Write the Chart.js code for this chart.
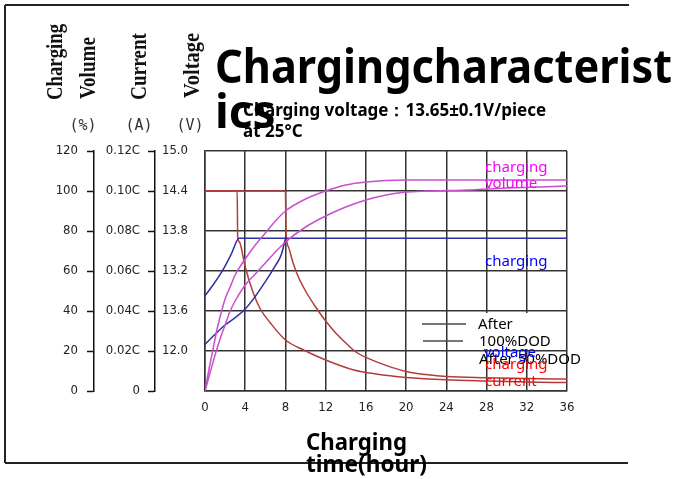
<!DOCTYPE html>
<html>
<head>
<meta charset="utf-8">
<script src="https://cdn.jsdelivr.net/npm/chart.js@4.4.1/dist/chart.umd.min.js"></script>
<style>
	body { margin: 0; background: #fff; }
</style>
</head>
<body>
<canvas id="charging-chart" width="675" height="479"></canvas>
<script>

// tick labels (bottom to top for the y axes)
var volumeTickLabels = ["0", "20", "40", "60", "80", "100", "120"];
var currentTickLabels = ["0", "0.02C", "0.04C", "0.06C", "0.08C", "0.10C", "0.12C"];
var voltageTickLabels = ["", "12.0", "13.6", "13.2", "13.8", "14.4", "15.0"];

// charging volume (%)
var volumeHalfTime = [0, 0.4, 0.8, 1.2, 1.6, 2, 2.5, 3, 4, 5, 6, 7, 8, 10, 12, 14, 16, 20, 28, 36];
var volumeHalf = [0, 11, 21, 31, 39, 46, 52, 58, 66, 73, 79, 85, 90, 96, 100, 103, 104.5, 105.5, 105.5, 105.5];
var volumeFullTime = [0, 0.5, 1, 1.5, 2, 2.5, 3, 4, 5, 6, 7, 8, 10, 12, 14, 16, 18, 20, 22, 26, 30, 36];
var volumeFull = [0, 9, 18, 26, 33, 40, 45, 53, 58.5, 64, 69.5, 74.5, 82, 87.5, 92, 95.5, 98, 99.5, 100, 100.5, 101.5, 102.5];

// charging voltage (V)
var voltageHalfTime = [0, 0.8, 1.8, 2.6, 3.4, 36];
var voltageHalf = [12.83, 12.99, 13.22, 13.45, 13.69, 13.69];
var voltageFullTime = [0, 1, 2, 3, 4, 5, 6, 7, 7.6, 8];
var voltageFull = [12.1, 12.25, 12.39, 12.5, 12.63, 12.82, 13.04, 13.28, 13.45, 13.69];

// charging current (C)
var currentHalfTime = [0, 3.2, 3.25, 3.4, 4, 4.8, 5.5, 6.5, 8, 9.8, 12, 14.8, 17, 20, 24, 28, 32, 36];
var currentHalf = [0.10, 0.10, 0.077, 0.0747, 0.062, 0.049, 0.041, 0.034, 0.0255, 0.0205, 0.0155, 0.0105, 0.0085, 0.0068, 0.0056, 0.005, 0.0045, 0.0042];
var currentFullTime = [0, 8, 8.05, 8.3, 8.7, 9.2, 10, 11, 12, 13, 14, 15, 16, 18, 20, 22, 24, 28, 32, 36];
var currentFull = [0.10, 0.10, 0.08, 0.072, 0.065, 0.058, 0.05, 0.042, 0.035, 0.029, 0.024, 0.0195, 0.0168, 0.0128, 0.0098, 0.0082, 0.0072, 0.0066, 0.0062, 0.006];

function points(xs, ys) {
	return xs.map(function(x, i) { return { x : x, y : ys[i] }; });
}

var RED = "#b53b3b", MAGENTA = "#c94fd0", BLUE = "#2f2fa2", GRID = "#333";
var tickFont = { family : "'DejaVu Sans Condensed', 'Liberation Sans Narrow', sans-serif", size : 13 };
var hand = "'Noto Sans', sans-serif";

function curve(label, data, color, axis) {
	return {
		label : label,
		data : data,
		yAxisID : axis,
		borderColor : color,
		backgroundColor : color,
		borderWidth : 1.5,
		pointRadius : 0,
		fill : false,
		cubicInterpolationMode : "monotone"
	};
}

function put(ctx, str, x, y, font, color, maxWidth) {
	ctx.font = font;
	ctx.fillStyle = color;
	if (maxWidth) ctx.fillText(str, x, y, maxWidth);
	else ctx.fillText(str, x, y);
}

function putUp(ctx, str, x, y, font, maxWidth) {
	ctx.save();
	ctx.translate(x, y);
	ctx.rotate(-Math.PI / 2);
	ctx.textBaseline = "middle";
	ctx.textAlign = "left";
	put(ctx, str, 0, 0, font, "#111", maxWidth);
	ctx.restore();
}

var overlay = {
	id : "overlay",
	beforeDatasetsDraw : function(chart) {
		// blank box behind the key
		var ctx = chart.ctx, xs = chart.scales.x, vs = chart.scales.volume;
		var l = xs.getPixelForValue(24) + 3, r = xs.getPixelForValue(36) - 3;
		var t = vs.getPixelForValue(40) + 2, b = vs.getPixelForValue(20) - 2;
		ctx.save();
		ctx.fillStyle = "#fff";
		ctx.fillRect(l, t, r - l, b - t);
		ctx.restore();
	},
	afterDraw : function(chart) {
		var ctx = chart.ctx;
		ctx.save();

		// frame
		ctx.strokeStyle = "#222";
		ctx.lineWidth = 2;
		ctx.beginPath();
		ctx.moveTo(5, 5); ctx.lineTo(629, 5);
		ctx.moveTo(5, 5); ctx.lineTo(5, 463);
		ctx.moveTo(5, 463); ctx.lineTo(628, 463);
		ctx.stroke();

		// axis titles
		var serif = "bold 23px 'Liberation Serif', serif";
		putUp(ctx, "Charging", 56, 100, serif, 76);
		putUp(ctx, "Volume", 89, 99, serif, 62);
		putUp(ctx, "Current", 140, 100, serif, 67);
		putUp(ctx, "Voltage", 193, 98, serif, 65);

		ctx.textBaseline = "alphabetic";
		ctx.textAlign = "center";
		put(ctx, "(%)", 83, 130, "15px 'DejaVu Sans Mono', monospace", "#333");
		put(ctx, "(A)", 139, 130, "15px 'DejaVu Sans Mono', monospace", "#333");
		put(ctx, "(V)", 190, 130, "15px 'DejaVu Sans Mono', monospace", "#333");

		// headings
		ctx.textAlign = "left";
		put(ctx, "Chargingcharacterist", 215, 83, "bold 46px " + hand, "#000", 457);
		put(ctx, "ics", 215, 128, "bold 46px " + hand, "#000");
		put(ctx, "Charging voltage：13.65±0.1V/piece", 243, 116, "bold 17px " + hand, "#000", 347);
		put(ctx, "at 25°C", 243, 137, "bold 17px " + hand, "#000", 76);
		put(ctx, "Charging", 306, 450, "bold 23px " + hand, "#000", 101);
		put(ctx, "time(hour)", 306, 472, "bold 23px " + hand, "#000", 121);

		// key
		ctx.strokeStyle = "#5a4646";
		ctx.lineWidth = 1.5;
		ctx.beginPath();
		ctx.moveTo(422, 324); ctx.lineTo(466, 324);
		ctx.moveTo(423, 341); ctx.lineTo(463, 341);
		ctx.stroke();
		var small = "15px " + hand;
		put(ctx, "After", 478, 329, small, "#000");
		put(ctx, "100%DOD", 479, 346, small, "#000", 76);
		put(ctx, "After 50%DOD", 479, 364, small, "#000", 111);
		put(ctx, "voltage", 484, 357, small, "#0000ff", 52);

		// curve labels
		put(ctx, "charging", 485, 172, small, "#ff00ff", 63);
		put(ctx, "volume", 485, 188, small, "#ff00ff", 53);
		put(ctx, "charging", 485, 266, small, "#0000ff", 63);
		put(ctx, "charging", 485, 369, small, "#ff0000", 63);
		put(ctx, "current", 485, 386, small, "#ff0000", 56);

		ctx.restore();
	}
};

var chart = new Chart(document.getElementById("charging-chart"), {
	type : "line",
	data : {
		datasets : [
			curve("Charging volume after 50%DOD", points(volumeHalfTime, volumeHalf), MAGENTA, "volume"),
			curve("Charging volume after 100%DOD", points(volumeFullTime, volumeFull), MAGENTA, "volume"),
			curve("Charging voltage after 50%DOD", points(voltageHalfTime, voltageHalf), BLUE, "voltage"),
			curve("Charging voltage after 100%DOD", points(voltageFullTime, voltageFull), BLUE, "voltage"),
			curve("Charging current after 50%DOD", points(currentHalfTime, currentHalf), RED, "current"),
			curve("Charging current after 100%DOD", points(currentFullTime, currentFull), RED, "current")
		]
	},
	options : {
		responsive : false,
		animation : false,
		layout : { padding : { left : 40, top : 151, right : 108, bottom : 58 } },
		plugins : {
			legend : { display : false },
			title : { display : false },
			tooltip : { enabled : false }
		},
		scales : {
			x : {
				type : "linear",
				min : 0,
				max : 36,
				ticks : { stepSize : 4, padding : 9, color : "#222", font : tickFont, maxRotation : 0 },
				grid : { color : GRID, lineWidth : 1.5, drawTicks : false },
				border : { color : GRID, width : 1.5 },
				afterFit : function(s) { s.height = 30; }
			},
			voltage : {
				position : "left",
				weight : 0,
				min : 11.4,
				max : 15.0,
				ticks : {
					stepSize : 0.6, padding : 17, color : "#222", font : tickFont,
					callback : function(v, i) { return voltageTickLabels[i]; }
				},
				grid : { color : GRID, lineWidth : 1.5, drawTicks : false },
				border : { color : GRID, width : 1.5 },
				afterFit : function(s) { s.width = 50; }
			},
			current : {
				position : "left",
				weight : 1,
				min : 0,
				max : 0.12,
				ticks : {
					stepSize : 0.02, padding : 8, color : "#222", font : tickFont,
					callback : function(v, i) { return currentTickLabels[i]; }
				},
				grid : { drawOnChartArea : false, tickLength : 7, tickColor : "#111", tickWidth : 1.5 },
				border : { color : "#111", width : 1.5 },
				afterFit : function(s) { s.width = 61; }
			},
			volume : {
				position : "left",
				weight : 2,
				min : 0,
				max : 120,
				ticks : {
					stepSize : 20, padding : 9, color : "#222", font : tickFont,
					callback : function(v, i) { return volumeTickLabels[i]; }
				},
				grid : { drawOnChartArea : false, tickLength : 7, tickColor : "#111", tickWidth : 1.5 },
				border : { color : "#111", width : 1.5 },
				afterFit : function(s) { s.width = 54; }
			}
		}
	},
	plugins : [overlay]
});

</script>
</body>
</html>
